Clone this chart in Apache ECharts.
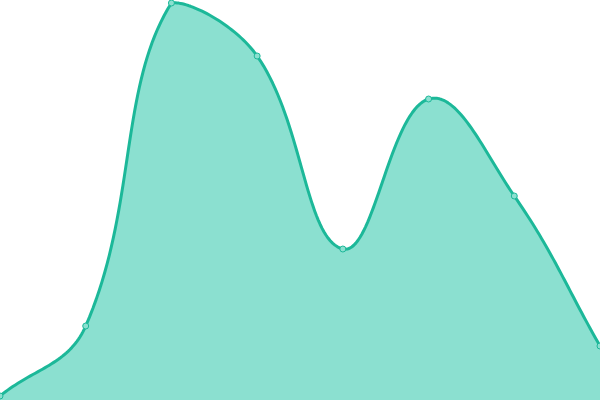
<!DOCTYPE html>
<html>
<head>
<meta charset="utf-8">
<script src="https://cdn.jsdelivr.net/npm/echarts@6/dist/echarts.min.js"></script>
<style>
  html, body { margin: 0; padding: 0; background: #fff; }
  #chart { width: 600px; height: 400px; }
</style>
</head>
<body>
<div id="chart"></div>
<script>
// 面积图数据
var categories = ['1', '2', '3', '4', '5', '6', '7', '8'];
var values = [4, 74, 397, 344, 151, 301, 204, 54];

var lineColor = '#1cb899';
var fillColor = '#8be0d0';
var tension = 0.4;

// 样条曲线(控制点按相邻点方向计算，并限制在绘图区内)
function splinePoints(pts, area) {
    var out = [];
    var clampX = function (v) { return Math.max(area.x, Math.min(area.x + area.width, v)); };
    var clampY = function (v) { return Math.max(area.y, Math.min(area.y + area.height, v)); };
    var cps = pts.map(function (cur, i) {
        var prev = pts[i - 1] || cur;
        var next = pts[i + 1] || cur;
        var d01 = Math.hypot(cur[0] - prev[0], cur[1] - prev[1]);
        var d12 = Math.hypot(next[0] - cur[0], next[1] - cur[1]);
        var s01 = d01 / (d01 + d12) || 0;
        var s12 = d12 / (d01 + d12) || 0;
        var fa = tension * s01, fb = tension * s12;
        return {
            prev: [clampX(cur[0] - fa * (next[0] - prev[0])), clampY(cur[1] - fa * (next[1] - prev[1]))],
            next: [clampX(cur[0] + fb * (next[0] - prev[0])), clampY(cur[1] + fb * (next[1] - prev[1]))]
        };
    });
    out.push(pts[0]);
    for (var i = 0; i < pts.length - 1; i++) {
        var p0 = pts[i], p1 = cps[i].next, p2 = cps[i + 1].prev, p3 = pts[i + 1];
        for (var k = 1; k <= 40; k++) {
            var t = k / 40, u = 1 - t;
            out.push([
                u * u * u * p0[0] + 3 * u * u * t * p1[0] + 3 * u * t * t * p2[0] + t * t * t * p3[0],
                u * u * u * p0[1] + 3 * u * u * t * p1[1] + 3 * u * t * t * p2[1] + t * t * t * p3[1]
            ]);
        }
    }
    return out;
}

var chart = echarts.init(document.getElementById('chart'));
var option = {
    animation: false,
    grid: { left: 0, right: 0, top: 0, bottom: 0 },
    xAxis: {
        type: 'category',
        show: false,
        boundaryGap: false,
        data: categories
    },
    yAxis: {
        type: 'value',
        show: false,
        min: 0,
        max: 400
    },
    series: [{
        type: 'custom',
        data: [0],
        z: 1,
        renderItem: function (params, api) {
            var area = params.coordSys;
            var pts = values.map(function (v, i) { return api.coord([i, v]); });
            var curve = splinePoints(pts, area);
            var base = api.coord([0, 0])[1];
            var poly = curve.concat([[pts[pts.length - 1][0], base], [pts[0][0], base]]);
            return {
                type: 'group',
                children: [{
                    type: 'polygon',
                    shape: { points: poly },
                    style: { fill: fillColor, stroke: null }
                }, {
                    type: 'polyline',
                    shape: { points: curve },
                    style: { fill: null, stroke: lineColor, lineWidth: 3, lineJoin: 'round' }
                }]
            };
        }
    }, {
        type: 'line',
        data: values,
        z: 3,
        symbol: 'circle',
        symbolSize: 6,
        lineStyle: { width: 0, opacity: 0 },
        itemStyle: { color: fillColor, borderColor: lineColor, borderWidth: 1 }
    }]
};
chart.setOption(option);
</script>
</body>
</html>
